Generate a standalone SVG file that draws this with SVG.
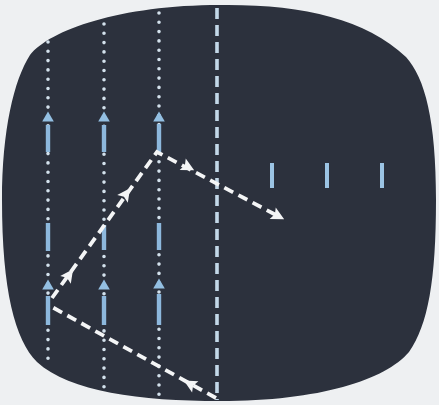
<svg xmlns="http://www.w3.org/2000/svg" width="439" height="405" viewBox="0 0 439 405">
<style>
.dot{stroke:#d3e1ec;stroke-width:3.6;stroke-linecap:round;stroke-dasharray:0 9.3;fill:none}
.dash{stroke:#c3d8e8;stroke-width:3.6;stroke-dasharray:11 6;fill:none}
.seg{stroke:#8db8dd;stroke-width:4.4;fill:none}
.bar{stroke:#9cc4e4;stroke-width:4;fill:none}
.up{fill:#93bfe2}
.path{stroke:#f4f5f6;stroke-width:3.8;stroke-dasharray:10 6;fill:none}
.ah{fill:#f4f5f6}
</style>
<defs>
<path id="tri" d="M7,0 L-6,-6.5 L-3.5,0 L-6,6.5 Z"/>
<path id="upa" d="M0,-5.5 L5.8,4.5 L-5.8,4.5 Z"/>
</defs>
<rect width="439" height="405" fill="#eef0f2"/>
<g id="screen">
<path fill="#2c313d" d="M220,5 C300,4 365,18 406,57 C425,78 436,120 436,200 C436,280 428,325 409,352 C385,380 320,401 220,401 C140,401 70,392 37,362 C15,340 2,290 2,200 C2,130 14,80 30,55 C50,30 120,5 220,5 Z"/>
</g>
<g id="tracks">
<line class="dot" x1="48" y1="42" x2="48" y2="362"/>
<line class="dot" x1="104" y1="24" x2="104" y2="391"/>
<line class="dot" x1="159" y1="13" x2="159" y2="397"/>
<line class="dash" x1="217" y1="8" x2="217" y2="400"/>
</g>
<g id="segments">
<g id="track1">
<line class="seg" x1="48" y1="125" x2="48" y2="152"/>
<line class="seg" x1="48" y1="223" x2="48" y2="251"/>
<line class="seg" x1="48" y1="296" x2="48" y2="325"/>
<use href="#upa" class="up" x="48" y="117"/>
<use href="#upa" class="up" x="48" y="285"/>
</g>
<g id="track2">
<line class="seg" x1="104" y1="125" x2="104" y2="152"/>
<line class="seg" x1="104" y1="225" x2="104" y2="250"/>
<line class="seg" x1="104" y1="296" x2="104" y2="325"/>
<use href="#upa" class="up" x="104" y="117"/>
<use href="#upa" class="up" x="104" y="285"/>
</g>
<g id="track3">
<line class="seg" x1="159" y1="124" x2="159" y2="152"/>
<line class="seg" x1="159" y1="223" x2="159" y2="250"/>
<line class="seg" x1="159" y1="294" x2="159" y2="325"/>
<use href="#upa" class="up" x="159" y="117"/>
<use href="#upa" class="up" x="159" y="284"/>
</g>
</g>
<g id="bars">
<line class="bar" x1="272" y1="163" x2="272" y2="188"/>
<line class="bar" x1="327" y1="163" x2="327" y2="188"/>
<line class="bar" x1="382" y1="163" x2="382" y2="188"/>
</g>
<g id="connectors">
<path class="path" d="M216,398 L52,307"/>
<path class="path" d="M52,298 L157,152 L276,215"/>
<use href="#tri" class="ah" transform="translate(190,384) rotate(-151)"/>
<use href="#tri" class="ah" transform="translate(69,275) rotate(-54.5)"/>
<use href="#tri" class="ah" transform="translate(126,194) rotate(-54.5)"/>
<use href="#tri" class="ah" transform="translate(188,167) rotate(28)"/>
<use href="#tri" class="ah" transform="translate(278,216) rotate(28)"/>
</g>
</svg>
